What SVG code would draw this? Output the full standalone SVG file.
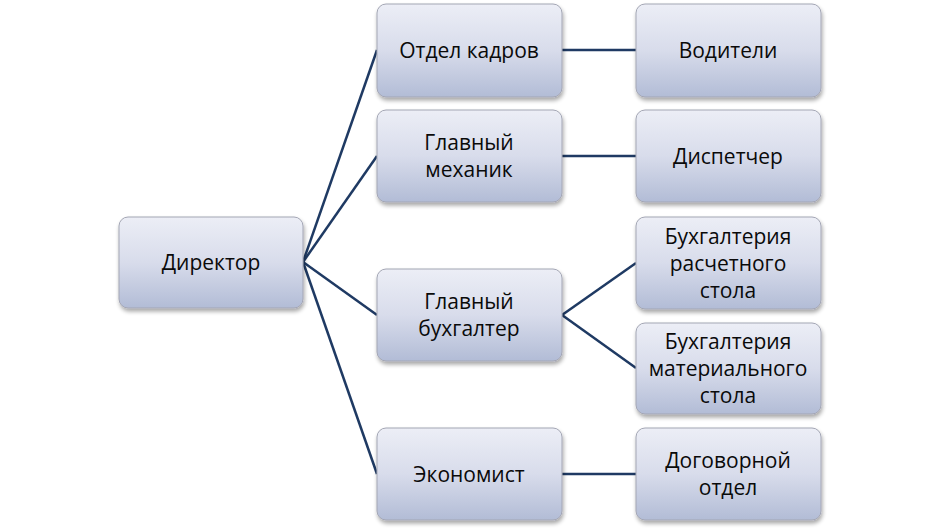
<svg xmlns="http://www.w3.org/2000/svg" width="939" height="529" viewBox="0 0 939 529">
<defs>
<linearGradient id="g" x1="0" y1="0" x2="0" y2="1">
<stop offset="0" stop-color="#ECEEF6"/>
<stop offset="0.5" stop-color="#D8DCEB"/>
<stop offset="1" stop-color="#B2BCD6"/>
</linearGradient>
<filter id="sh" x="-10%" y="-10%" width="125%" height="130%">
<feGaussianBlur in="SourceAlpha" stdDeviation="2"/>
<feOffset dx="1" dy="3"/>
<feComponentTransfer><feFuncA type="linear" slope="0.35"/></feComponentTransfer>
<feMerge><feMergeNode/><feMergeNode in="SourceGraphic"/></feMerge>
</filter>
</defs>
<style>
.box{fill:url(#g);stroke:#A3A6B4;stroke-width:1;filter:url(#sh)}
.t{font-family:"Open Sans","Liberation Sans",sans-serif;font-size:21px;fill:#0A0A0A;text-anchor:middle}
.c{stroke:#1F3A63;stroke-width:2.5;fill:none}
</style>
<rect width="939" height="529" fill="#fff"/>
<g id="connectors">
<line class="c" x1="303" y1="262" x2="377" y2="50"/>
<line class="c" x1="303" y1="262" x2="377" y2="156"/>
<line class="c" x1="303" y1="262" x2="377" y2="315"/>
<line class="c" x1="303" y1="262" x2="377" y2="474"/>
<line class="c" x1="562" y1="50" x2="636" y2="50"/>
<line class="c" x1="562" y1="156" x2="636" y2="156"/>
<line class="c" x1="562" y1="315" x2="636" y2="263"/>
<line class="c" x1="562" y1="315" x2="636" y2="368"/>
<line class="c" x1="562" y1="474" x2="636" y2="474"/>
</g>
<g id="director"><rect class="box" x="119" y="217" width="184" height="91" rx="9"/><text class="t" x="211" y="270">Директор</text></g>
<g id="kadry"><rect class="box" x="377" y="4" width="185" height="93" rx="9"/><text class="t" x="469" y="58">Отдел кадров</text></g>
<g id="mekhanik"><rect class="box" x="377" y="110" width="185" height="92" rx="9"/><text class="t" x="469" y="150">Главный</text><text class="t" x="469" y="177">механик</text></g>
<g id="bukhgalter"><rect class="box" x="377" y="269" width="185" height="92" rx="9"/><text class="t" x="469" y="309">Главный</text><text class="t" x="469" y="336">бухгалтер</text></g>
<g id="ekonomist"><rect class="box" x="377" y="428" width="185" height="92" rx="9"/><text class="t" x="469" y="482">Экономист</text></g>
<g id="voditeli"><rect class="box" x="636" y="4" width="185" height="93" rx="9"/><text class="t" x="728" y="58">Водители</text></g>
<g id="dispetcher"><rect class="box" x="636" y="110" width="185" height="92" rx="9"/><text class="t" x="728" y="164">Диспетчер</text></g>
<g id="raschet"><rect class="box" x="636" y="217" width="185" height="92" rx="9"/><text class="t" x="728" y="244">Бухгалтерия</text><text class="t" x="728" y="271">расчетного</text><text class="t" x="728" y="298">стола</text></g>
<g id="material"><rect class="box" x="636" y="323" width="185" height="91" rx="9"/><text class="t" x="728" y="349">Бухгалтерия</text><text class="t" x="728" y="376">материального</text><text class="t" x="728" y="403">стола</text></g>
<g id="dogovor"><rect class="box" x="636" y="428" width="185" height="92" rx="9"/><text class="t" x="728" y="468">Договорной</text><text class="t" x="728" y="495">отдел</text></g>
</svg>
